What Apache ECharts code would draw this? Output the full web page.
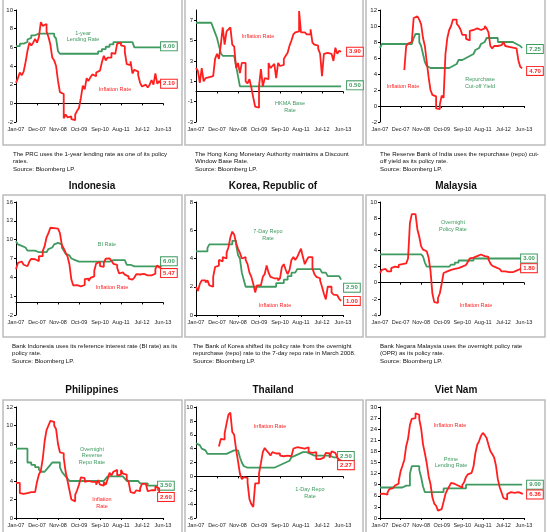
<!DOCTYPE html>
<html><head><meta charset="utf-8">
<script src="https://cdn.jsdelivr.net/npm/echarts@6/dist/echarts.min.js"></script>
<style>html,body{margin:0;padding:0;background:#fff}#c{width:550px;height:532px}</style>
</head><body><div id="c"></div>
<script>
// ---------- categories (monthly, Jan-07 .. Jun-13) ----------
const monthNames = ['Jan','Feb','Mar','Apr','May','Jun','Jul','Aug','Sep','Oct','Nov','Dec'];
const months = [];
for (let y = 7; y <= 13; y++) for (let m = 0; m < 12; m++) { if (y === 13 && m > 5) break; months.push(monthNames[m] + '-' + (y < 10 ? '0' + y : y)); }

// ---------- data (Jan-07 .. May-13) ----------
const prcLending = [6.12,6.12,6.39,6.39,6.57,6.57,6.84,7.02,7.29,7.29,7.29,7.47,
 7.47,7.47,7.47,7.47,7.47,7.47,7.47,7.47,7.20,6.93,5.58,5.31,
 5.31,5.31,5.31,5.31,5.31,5.31,5.31,5.31,5.31,5.31,5.31,5.31,
 5.31,5.31,5.31,5.31,5.31,5.31,5.31,5.56,5.56,5.81,5.81,6.06,
 6.06,6.31,6.31,6.56,6.56,6.56,6.56,6.56,6.56,6.56,6.56,6.56,
 6.56,6.56,6.00,6.00,6.00,6.00,6.00,6.00,6.00,6.00,6.00,6.00,
 6.00,6.00,6.00,6.00,6.00];
const prcInflation = [2.2,2.7,3.3,3.0,3.4,4.4,5.6,6.5,6.2,6.5,6.9,6.5,
 7.1,8.7,8.3,8.5,7.7,7.1,6.3,4.9,4.6,4.0,2.4,1.2,
 1.0,-1.6,-1.2,-1.5,-1.4,-1.7,-1.8,-1.2,-0.8,-0.5,0.6,1.9,
 1.5,2.7,2.4,2.8,3.1,2.9,3.3,3.5,3.6,4.4,5.1,4.6,
 4.9,4.9,5.4,5.3,5.5,6.4,6.5,6.2,6.1,5.5,4.2,4.1,
 4.5,3.2,3.6,3.4,3.0,2.2,1.8,2.0,1.9,1.7,2.0,2.5,
 2.0,3.2,2.1,2.4,2.1];

const hkBase = [6.75,6.75,6.75,6.75,6.75,6.75,6.75,6.75,6.75,6.25,5.75,5.25,
 4.5,3.75,3.5,3.5,3.5,3.5,3.5,3.5,3.5,2.5,1.5,0.5,
 0.5,0.5,0.5,0.5,0.5,0.5,0.5,0.5,0.5,0.5,0.5,0.5,
 0.5,0.5,0.5,0.5,0.5,0.5,0.5,0.5,0.5,0.5,0.5,0.5,
 0.5,0.5,0.5,0.5,0.5,0.5,0.5,0.5,0.5,0.5,0.5,0.5,
 0.5,0.5,0.5,0.5,0.5,0.5,0.5,0.5,0.5,0.5,0.5,0.5,
 0.5,0.5,0.5,0.5,0.5];
const hkInflation = [2.3,2.0,0.85,2.3,1.0,1.3,1.4,1.5,1.5,1.5,3.2,3.7,
 3.2,4.6,6.3,4.6,5.9,6.1,6.3,4.6,4.4,2.3,2.8,1.8,
 2.8,2.8,1.0,0.8,1.2,0.35,-0.6,-1.5,-1.6,0.5,2.2,0.5,
 1.3,1.2,2.8,2.3,2.5,2.7,1.3,2.8,2.5,2.6,3.2,3.5,
 3.8,4.5,5.0,5.6,5.8,5.9,7.9,5.8,5.8,5.7,5.6,5.6,
 6.1,4.8,4.6,4.5,4.2,3.7,1.5,3.7,3.8,3.8,3.7,3.7,
 3.0,4.3,3.7,4.0,3.9];

const indiaRepo = [7.25,7.75,7.75,7.75,7.75,7.75,7.75,7.75,7.75,7.75,7.75,7.75,
 7.75,7.75,7.75,7.75,7.75,8.0,8.5,9.0,9.0,8.0,7.5,6.5,
 5.5,5.0,4.75,4.75,4.75,4.75,4.75,4.75,4.75,4.75,4.75,4.75,
 4.75,4.75,5.0,5.25,5.25,5.5,5.75,5.75,6.0,6.0,6.25,6.25,
 6.5,6.5,6.75,7.0,7.25,7.5,7.75,8.0,8.25,8.5,8.5,8.5,
 8.5,8.5,8.5,8.0,8.0,8.0,8.0,8.0,8.0,8.0,8.0,8.0,
 7.75,7.5,7.5,7.25,7.25];
const indiaInflation = [null,null,null,null,null,null,null,null,null,null,null,null,
 null,4.5,7.5,7.8,8.0,8.2,11.0,11.2,11.0,10.8,10.2,8.5,
 7.5,5.5,3.6,2.0,1.4,1.2,-0.3,-0.4,0.2,1.3,1.0,6.5,
 8.5,9.5,10.0,10.8,10.8,10.3,10.0,9.6,8.9,8.9,8.4,8.2,
 9.4,9.5,9.6,9.7,9.6,9.5,9.5,9.7,10.0,9.7,9.2,7.5,
 7.2,7.5,7.5,7.6,7.6,7.6,8.0,7.5,7.4,7.3,7.3,7.2,
 7.2,7.0,5.7,4.9,4.7];

const idnBI = [9.75,9.25,9.00,9.00,8.75,8.50,8.25,8.25,8.25,8.25,8.25,8.00,
 8.00,8.00,8.00,8.00,8.25,8.50,8.75,9.00,9.25,9.50,9.50,9.25,
 8.75,8.25,7.75,7.50,7.25,7.00,6.75,6.50,6.50,6.50,6.50,6.50,
 6.50,6.50,6.50,6.50,6.50,6.50,6.50,6.50,6.50,6.50,6.50,6.50,
 6.50,6.75,6.75,6.75,6.75,6.75,6.75,6.75,6.75,6.50,6.00,6.00,
 6.00,5.75,5.75,5.75,5.75,5.75,5.75,5.75,5.75,5.75,5.75,5.75,
 5.75,5.75,5.75,5.75,6.00];
const idnInflation = [5.3,6.30,6.52,6.29,6.01,5.77,6.06,6.51,6.95,6.88,6.71,6.59,
 7.36,7.40,8.17,8.96,10.38,11.03,11.90,11.85,12.14,11.77,11.68,11.06,
 9.17,8.60,7.92,7.31,6.04,3.65,2.71,2.75,2.83,2.57,2.41,2.78,
 3.72,3.81,3.43,3.91,4.16,5.05,6.22,6.44,5.80,5.67,6.33,6.96,
 7.02,6.84,6.65,6.16,5.98,5.54,4.61,4.79,4.61,4.42,4.15,3.79,
 3.65,3.56,3.97,4.50,4.45,4.53,4.56,4.58,4.31,4.61,4.32,4.30,
 4.57,5.31,5.90,5.57,5.47];

const korRepo = [4.5,4.5,4.5,4.5,4.5,4.5,4.75,5.0,5.0,5.0,5.0,5.0,
 5.0,5.0,5.0,5.0,5.0,5.0,5.0,5.25,5.25,5.0,4.25,4.0,
 3.0,2.5,2.0,2.0,2.0,2.0,2.0,2.0,2.0,2.0,2.0,2.0,
 2.0,2.0,2.0,2.0,2.0,2.0,2.25,2.25,2.25,2.25,2.5,2.5,
 2.75,2.75,3.0,3.0,3.0,3.25,3.25,3.25,3.25,3.25,3.25,3.25,
 3.25,3.25,3.25,3.25,3.25,3.25,3.0,3.0,3.0,2.75,2.75,2.75,
 2.75,2.75,2.75,2.75,2.5];
const korInflation = [2.0,1.7,2.2,2.45,2.45,2.3,2.45,2.1,2.0,2.7,3.4,3.5,
 3.9,3.8,4.1,4.0,4.4,4.8,5.5,5.9,5.7,5.1,4.7,4.4,
 4.0,4.1,3.9,3.6,3.0,2.7,2.2,1.6,2.1,2.1,2.2,2.7,
 2.9,3.5,3.0,2.7,2.6,2.7,2.6,2.45,2.6,3.4,3.6,3.2,
 2.9,3.2,3.9,4.1,3.9,4.1,4.4,4.7,4.1,3.6,3.9,4.1,
 4.1,3.3,2.9,2.7,2.6,2.45,2.0,1.5,1.1,2.0,2.0,1.6,
 1.45,1.4,1.3,1.15,1.0];

const mysOPR = [3.5,3.5,3.5,3.5,3.5,3.5,3.5,3.5,3.5,3.5,3.5,3.5,
 3.5,3.5,3.5,3.5,3.5,3.5,3.5,3.5,3.5,3.5,3.5,3.25,
 2.5,2.0,2.0,2.0,2.0,2.0,2.0,2.0,2.0,2.0,2.0,2.0,
 2.0,2.0,2.25,2.25,2.5,2.5,2.75,2.75,2.75,2.75,2.75,2.75,
 2.75,2.75,3.0,3.0,3.0,3.0,3.0,3.0,3.0,3.0,3.0,3.0,
 3.0,3.0,3.0,3.0,3.0,3.0,3.0,3.0,3.0,3.0,3.0,3.0,
 3.0,3.0,3.0,3.0,3.0];
const mysInflation = [1.2,1.6,1.7,1.5,1.4,1.4,1.8,2.0,1.9,1.9,2.2,2.3,
 2.3,2.4,2.6,3.0,7.4,8.5,8.5,8.3,6.6,5.7,4.5,4.1,
 3.9,3.7,3.1,1.5,-1.3,-2.4,-2.5,-1.9,-1.3,-0.1,1.2,1.4,
 1.4,1.6,1.6,1.7,1.8,1.8,1.9,2.0,2.0,2.2,2.3,2.6,
 3.0,3.1,3.2,3.3,3.4,3.5,3.4,3.3,3.3,3.2,2.9,2.4,
 2.1,1.9,1.8,1.7,1.6,1.4,1.4,1.35,1.3,1.2,1.3,1.4,
 1.5,1.6,1.7,1.8,1.8];

const phlRRP = [7.5,7.5,7.5,7.5,7.5,7.5,6.0,6.0,5.75,5.75,5.5,5.5,
 5.25,5.0,5.0,5.0,5.25,5.5,5.75,6.0,6.0,6.0,6.0,5.5,
 5.0,4.75,4.5,4.25,4.0,4.0,4.0,4.0,4.0,4.0,4.0,4.0,
 4.0,4.0,4.0,4.0,4.0,4.0,4.0,4.0,4.0,4.0,4.0,4.25,
 4.5,4.5,4.5,4.5,4.5,4.5,4.5,4.5,4.5,4.25,4.0,4.0,
 4.0,4.0,4.0,4.0,4.0,3.75,3.75,3.75,3.75,3.5,3.5,3.5,
 3.5,3.5,3.5,3.5,3.5];
const phlInflation = [3.8,3.8,2.7,2.6,2.6,2.7,2.7,2.8,2.8,2.8,3.0,3.9,
 4.7,5.1,6.4,8.3,9.5,10.0,10.5,10.4,10.0,9.6,8.0,7.1,
 7.0,6.5,5.0,4.0,3.0,2.0,1.8,2.5,3.0,3.6,4.4,4.3,
 3.9,4.0,4.0,3.9,3.8,3.9,3.6,4.1,3.6,3.5,3.9,3.6,
 4.2,4.9,4.6,5.0,5.2,4.6,4.7,5.2,4.8,4.7,4.2,3.9,
 2.8,2.7,2.8,3.0,2.9,3.2,3.7,3.7,3.5,2.9,3.0,2.8,
 3.0,3.4,3.2,2.6,2.6];

const thaRepo = [4.75,4.5,4.25,4.0,3.75,3.5,3.25,3.25,3.25,3.25,3.25,3.25,
 3.25,3.25,3.25,3.25,3.5,3.5,3.75,3.75,3.75,3.75,3.75,2.75,
 2.0,1.5,1.25,1.25,1.25,1.25,1.25,1.25,1.25,1.25,1.25,1.25,
 1.25,1.25,1.25,1.25,1.25,1.25,1.5,1.75,1.75,1.75,2.0,2.0,
 2.25,2.5,2.75,3.0,3.0,3.25,3.25,3.5,3.5,3.5,3.5,3.25,
 3.0,3.0,3.0,3.0,3.0,3.0,3.0,3.0,3.0,3.0,2.75,2.75,
 2.75,2.75,2.75,2.75,2.5];
const thaInflation = [null,null,null,null,null,null,null,null,null,null,null,null,
 4.3,5.4,5.3,6.2,7.6,8.9,9.2,6.4,6.0,3.9,2.2,0.4,
 -0.4,-0.1,-0.2,-0.9,-3.3,-4.0,-4.4,-1.0,-1.0,0.4,1.9,3.5,
 4.1,3.7,3.4,3.0,3.5,3.3,3.4,3.3,3.0,2.9,2.8,3.0,
 3.0,2.9,3.1,4.0,4.2,4.1,4.1,4.3,4.0,4.2,4.2,3.5,
 3.4,3.4,3.5,2.5,2.5,2.6,2.7,2.7,3.4,3.3,2.7,3.6,
 3.4,3.2,2.7,2.4,2.27];

const vnmPrime = [8.25,8.25,8.25,8.25,8.25,8.25,8.25,8.25,8.25,8.25,8.25,8.25,
 8.25,8.75,8.75,8.75,12.0,14.0,14.0,14.0,14.0,13.0,11.0,8.5,
 7.0,7.0,7.0,7.0,7.0,7.0,7.0,7.0,7.0,7.0,8.0,8.0,
 8.0,8.0,8.0,8.0,8.0,8.0,8.0,8.0,8.0,8.0,9.0,9.0,
 9.0,9.0,9.0,9.0,9.0,9.0,9.0,9.0,9.0,9.0,9.0,9.0,
 9.0,9.0,9.0,9.0,9.0,9.0,9.0,9.0,9.0,9.0,9.0,9.0,
 9.0,9.0,9.0,9.0,9.0];
const vnmInflation = [6.5,6.6,6.5,6.3,6.9,7.8,8.1,8.4,8.8,9.3,10.0,12.6,
 14.1,15.7,19.4,21.4,25.2,26.8,27.0,28.3,27.9,26.7,24.2,19.9,
 17.5,14.8,11.3,9.2,5.6,3.9,3.3,2.0,2.4,2.9,4.4,6.5,
 7.6,8.5,9.5,9.2,9.1,8.7,8.2,8.2,8.9,9.7,11.1,11.8,
 12.2,12.3,13.9,17.5,19.8,20.8,22.2,23.0,22.4,21.6,19.8,18.1,
 17.3,16.4,14.2,10.5,8.3,6.9,5.4,5.0,6.5,7.0,7.1,6.8,
 7.1,7.0,6.6,6.6,6.36];

// y-axis scales [min, max, interval]
const yScales = [[-2,10,2],[-3,8,2],[-2,12,2],[-2,16,3],[0,8,2],[-4,10,2],[0,12,2],[-6,10,2],[0,30,3]];
const policySeries = [prcLending, hkBase, indiaRepo, idnBI, korRepo, mysOPR, phlRRP, thaRepo, vnmPrime];
const inflationSeries = [prcInflation, hkInflation, indiaInflation, idnInflation, korInflation, mysInflation, phlInflation, thaInflation, vnmInflation];

const titles = [null, null, null, 'Indonesia', 'Korea, Republic of', 'Malaysia', 'Philippines', 'Thailand', 'Viet Nam'];
const captions = [
 'The PRC uses the 1-year lending rate as one of its policy\nrates.\nSource: Bloomberg LP.',
 'The Hong Kong Monetary Authority maintains a Discount\nWindow Base Rate.\nSource: Bloomberg LP.',
 'The Reserve Bank of India uses the repurchase (repo) cut-\noff yield as its policy rate.\nSource: Bloomberg LP.',
 'Bank Indonesia uses its reference interest rate (BI rate) as its\npolicy rate.\nSource: Bloomberg LP.',
 'The Bank of Korea shifted its policy rate from the overnight\nrepurchase (repo) rate to the 7-day repo rate in March 2008.\nSource: Bloomberg LP.',
 'Bank Negara Malaysia uses the overnight policy rate\n(OPR) as its policy rate.\nSource: Bloomberg LP.'
];

// ---------- layout / style ----------
const GREEN = '#3f9a60', RED = '#ff1f1f';
const NARROW = '"Liberation Sans Narrow","Arial Narrow",Arial,sans-serif';
const colLeft = [16, 196, 380], colWidth = [147, 147, 144];
const rowTop = [10, 202, 407], rowHeight = [112, 113, 111];
const boxX = [[3,182],[185,363],[366,545]], boxY = [[-5,145],[195,337],[400,545]];
const titleX = [92, 273, 456], titleY = [0, 186, 390];
const captionX = [[13,195,380],[12,193,380]], captionTop = [150, 342];
// end label offsets [dx, dy] for policy / inflation labels
const policyOff = [[0,-1],[6,-1],[5,1],[0,-3.5],[3,8],[-1,0],[-3,0],[-3,-3],[5,0]];
const inflOff   = [[0,0],[6,0],[5,2.5],[0,5],[3,0],[-1,0],[-3,3],[-3,4.5],[5,0]];
const notes = [
 [83, 36.5, '1-year\nLending Rate', GREEN],
 [115, 89, 'Inflation Rate', RED],
 [258, 36, 'Inflation Rate', RED],
 [290, 107, 'HKMA Base\nRate', GREEN],
 [403, 86, 'Inflation Rate', RED],
 [480, 83, 'Repurchase\nCut-off Yield', GREEN],
 [107, 244, 'BI Rate', GREEN],
 [112, 287, 'Inflation Rate', RED],
 [268, 235, '7-Day Repo\nRate', GREEN],
 [275, 305, 'Inflation Rate', RED],
 [453, 226, 'Overnight\nPolicy Rate', GREEN],
 [476, 305, 'Inflation Rate', RED],
 [92, 455.5, 'Overnight\nReverse\nRepo Rate', GREEN],
 [102, 503, 'Inflation\nRate', RED],
 [270, 426, 'Inflation Rate', RED],
 [310, 493, '1-Day Repo\nRate', GREEN],
 [450, 425, 'Inflation Rate', RED],
 [451, 462.5, 'Prime\nLending Rate', GREEN]
];

const grid = [], xAxis = [], yAxis = [], series = [], graphic = [];
function endLabel(color, off) {
  return { show: true, formatter: p => Number(p.value).toFixed(2), color: color, fontSize: 6, fontWeight: 'bold',
    fontFamily: 'Arial', backgroundColor: '#fff', borderColor: color, borderWidth: 1, padding: [1.5, 2, 0.5, 2],
    distance: 0, offset: off, align: 'left', verticalAlign: 'middle' };
}
for (let i = 0; i < 9; i++) {
  const r = Math.floor(i / 3), c = i % 3;
  grid.push({ left: colLeft[c], top: rowTop[r], width: colWidth[c], height: rowHeight[r], containLabel: false, outerBoundsMode: 'none' });
  xAxis.push({ type: 'category', gridIndex: i, data: months, boundaryGap: false, position: 'bottom',
    axisLine: { show: true, onZero: true, lineStyle: { color: '#000', width: 1 } },
    axisTick: { show: true, interval: 10, length: 2, lineStyle: { color: '#000' } },
    axisLabel: { show: false }, splitLine: { show: false } });
  xAxis.push({ type: 'category', gridIndex: i, data: months, boundaryGap: false, position: 'bottom',
    axisLine: { show: false, onZero: false }, axisTick: { show: false },
    axisLabel: { interval: 10, fontSize: 5.5, color: '#222', margin: 4, fontFamily: NARROW }, splitLine: { show: false } });
  const s = yScales[i];
  yAxis.push({ type: 'value', gridIndex: i, min: s[0], max: s[1], interval: s[2],
    axisLine: { show: true, onZero: false, lineStyle: { color: '#000', width: 1 } },
    axisTick: { show: true, length: 2, lineStyle: { color: '#000' } }, splitLine: { show: false },
    axisLabel: { fontSize: 6, color: '#222', margin: 3, fontFamily: NARROW, showMaxLabel: i === 1 ? false : true } });
  series.push({ type: 'line', xAxisIndex: 2 * i, yAxisIndex: i, data: policySeries[i], step: 'end', symbol: 'none',
    lineStyle: { color: GREEN, width: 1.8 }, itemStyle: { color: GREEN }, endLabel: endLabel(GREEN, policyOff[i]), z: 3 });
  series.push({ type: 'line', xAxisIndex: 2 * i, yAxisIndex: i, data: inflationSeries[i], step: 'end', symbol: 'none',
    lineStyle: { color: RED, width: 1.8 }, itemStyle: { color: RED }, endLabel: endLabel(RED, inflOff[i]), z: 4 });
  graphic.push({ type: 'rect', shape: { x: boxX[c][0], y: boxY[r][0], width: boxX[c][1] - boxX[c][0], height: boxY[r][1] - boxY[r][0] },
    style: { fill: 'none', stroke: '#bcbcbc', lineWidth: 1.5 }, z: -1 });
  if (titles[i]) graphic.push({ type: 'text', x: titleX[c], y: titleY[r],
    style: { text: titles[i], fill: '#111', font: 'bold 10px ' + NARROW, textAlign: 'center', textVerticalAlign: 'middle' } });
  if (i < 6) graphic.push({ type: 'text', x: captionX[r][c], y: captionTop[r],
    style: { text: captions[i], fill: '#111', font: '6.1px ' + NARROW, textAlign: 'left', textVerticalAlign: 'top', lineHeight: 7.8 } });
}
notes.forEach(n => graphic.push({ type: 'text', x: n[0], y: n[1],
  style: { text: n[2], fill: n[3], font: '5.5px ' + NARROW, textAlign: 'center', textVerticalAlign: 'middle', lineHeight: 6.5 } }));

const chart = echarts.init(document.getElementById('c'), null, { renderer: 'canvas' });
chart.setOption({ animation: false, backgroundColor: '#fff', grid, xAxis, yAxis, series, graphic });
</script></body></html>
